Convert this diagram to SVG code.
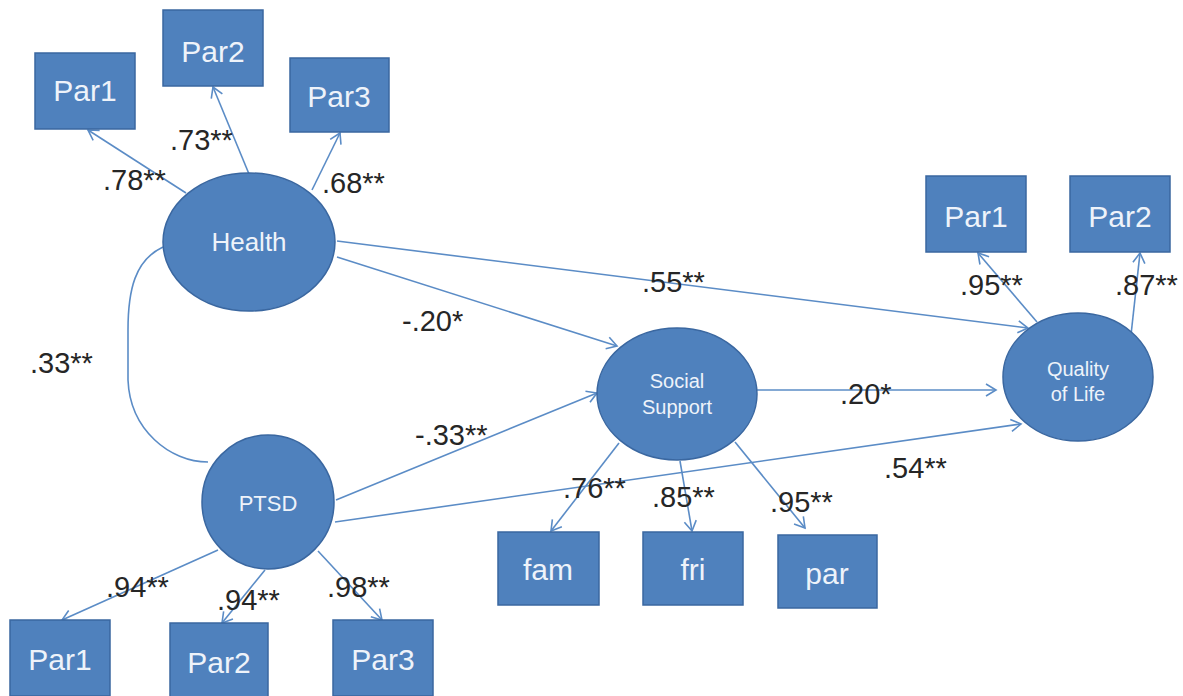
<svg xmlns="http://www.w3.org/2000/svg" width="1183" height="696" viewBox="0 0 1183 696">
<style>
.box{fill:#4f81bd;stroke:#3a67a0;stroke-width:1.5}
.lat{fill:#4f81bd;stroke:#3a67a0;stroke-width:1.5}
.bt{font-family:"Liberation Sans",Arial,sans-serif;font-size:30px;fill:#eef3fa;text-anchor:middle}
.lt{font-family:"Liberation Sans",Arial,sans-serif;fill:#eef3fa;text-anchor:middle}
.lab{font-family:"Liberation Sans",Arial,sans-serif;font-size:29px;fill:#262626}
.con{fill:none;stroke:#5b8cc6;stroke-width:1.6}
</style>
<defs>
<marker id="ah" markerUnits="userSpaceOnUse" markerWidth="14" markerHeight="14" viewBox="0 0 14 14" refX="12" refY="7" orient="auto">
<path d="M2,1 L12,7 L2,13" fill="none" stroke="#5b8cc6" stroke-width="1.6"/>
</marker>
</defs>
<rect width="1183" height="696" fill="#ffffff"/>

<g id="connectors">
<path class="con" d="M186,193 L88,130" marker-end="url(#ah)"/>
<path class="con" d="M249,174 L213,87" marker-end="url(#ah)"/>
<path class="con" d="M312,190 L340,133" marker-end="url(#ah)"/>
<path class="con" d="M163,247 C135,260 128,290 128,330 L128,380 C130,430 170,462 208,462"/>
<path class="con" d="M337,257 L617,346" marker-end="url(#ah)"/>
<path class="con" d="M337,241 L1028,328" marker-end="url(#ah)"/>
<path class="con" d="M757,390 L996,390" marker-end="url(#ah)"/>
<path class="con" d="M336,500 L597,393" marker-end="url(#ah)"/>
<path class="con" d="M335,522 L1021,424" marker-end="url(#ah)"/>
<path class="con" d="M218,550 L62,620" marker-end="url(#ah)"/>
<path class="con" d="M265,570 L222,623" marker-end="url(#ah)"/>
<path class="con" d="M318,551 L382,620" marker-end="url(#ah)"/>
<path class="con" d="M619,443 L551,531" marker-end="url(#ah)"/>
<path class="con" d="M680,461 L692,531" marker-end="url(#ah)"/>
<path class="con" d="M735,442 L805,528" marker-end="url(#ah)"/>
<path class="con" d="M1037,322 L978,253" marker-end="url(#ah)"/>
<path class="con" d="M1131,335 L1140,253" marker-end="url(#ah)"/>
</g>

<g id="health-par1"><rect class="box" x="35" y="53" width="100" height="76"/><text class="bt" x="85" y="101">Par1</text></g>
<g id="health-par2"><rect class="box" x="163" y="10" width="100" height="76"/><text class="bt" x="213" y="62">Par2</text></g>
<g id="health-par3"><rect class="box" x="290" y="58" width="99" height="74"/><text class="bt" x="339" y="107">Par3</text></g>

<g id="health"><ellipse class="lat" cx="249" cy="242" rx="86" ry="69"/><text class="lt" x="249" y="251" font-size="26">Health</text></g>
<g id="ptsd"><ellipse class="lat" cx="268" cy="502" rx="66" ry="67"/><text class="lt" x="268" y="511" font-size="22">PTSD</text></g>
<g id="social-support"><ellipse class="lat" cx="677" cy="394" rx="80" ry="66"/><text class="lt" x="677" y="388" font-size="20">Social</text><text class="lt" x="677" y="414" font-size="20">Support</text></g>
<g id="quality-of-life"><ellipse class="lat" cx="1078" cy="377" rx="75" ry="64"/><text class="lt" x="1078" y="376" font-size="20">Quality</text><text class="lt" x="1078" y="401" font-size="20">of Life</text></g>

<g id="qol-par1"><rect class="box" x="926" y="176" width="100" height="76"/><text class="bt" x="976" y="227">Par1</text></g>
<g id="qol-par2"><rect class="box" x="1070" y="176" width="100" height="76"/><text class="bt" x="1120" y="227">Par2</text></g>

<g id="ss-fam"><rect class="box" x="498" y="532" width="101" height="73"/><text class="bt" x="548" y="580">fam</text></g>
<g id="ss-fri"><rect class="box" x="643" y="532" width="100" height="73"/><text class="bt" x="693" y="580">fri</text></g>
<g id="ss-par"><rect class="box" x="778" y="535" width="99" height="73"/><text class="bt" x="827" y="584">par</text></g>

<g id="ptsd-par1"><rect class="box" x="10" y="620" width="100" height="76"/><text class="bt" x="60" y="670">Par1</text></g>
<g id="ptsd-par2"><rect class="box" x="170" y="623" width="98" height="76"/><text class="bt" x="219" y="673">Par2</text></g>
<g id="ptsd-par3"><rect class="box" x="333" y="620" width="100" height="76"/><text class="bt" x="383" y="670">Par3</text></g>

<g id="labels">
<text class="lab" x="103" y="190">.78**</text>
<text class="lab" x="170" y="150">.73**</text>
<text class="lab" x="322" y="193">.68**</text>
<text class="lab" x="30" y="373">.33**</text>
<text class="lab" x="402" y="331">-.20*</text>
<text class="lab" x="642" y="292">.55**</text>
<text class="lab" x="840" y="404">.20*</text>
<text class="lab" x="415" y="445">-.33**</text>
<text class="lab" x="884" y="478">.54**</text>
<text class="lab" x="563" y="498">.76**</text>
<text class="lab" x="652" y="507">.85**</text>
<text class="lab" x="770" y="512">.95**</text>
<text class="lab" x="960" y="295">.95**</text>
<text class="lab" x="1115" y="295">.87**</text>
<text class="lab" x="106" y="597">.94**</text>
<text class="lab" x="217" y="610">.94**</text>
<text class="lab" x="327" y="597">.98**</text>
</g>
</svg>
